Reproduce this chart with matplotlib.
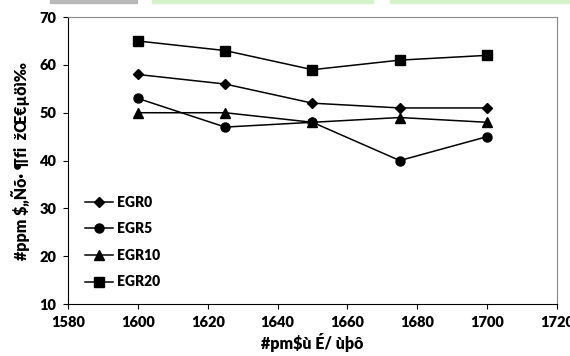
import matplotlib
matplotlib.use("Agg")
import matplotlib.pyplot as plt
from matplotlib.patches import Rectangle

plt.rcParams['font.family'] = ['Lato', 'DejaVu Sans']

# data
speed = [1600, 1625, 1650, 1675, 1700]
egr0 = [58, 56, 52, 51, 51]
egr5 = [53, 47, 48, 40, 45]
egr10 = [50, 50, 48, 49, 48]
egr20 = [65, 63, 59, 61, 62]

series = [("EGR0", egr0, "D", 5.5),
          ("EGR5", egr5, "o", 6.5),
          ("EGR10", egr10, "^", 6.5),
          ("EGR20", egr20, "s", 6.5)]

x_ticks = [1580, 1600, 1620, 1640, 1660, 1680, 1700, 1720]
y_ticks = [10, 20, 30, 40, 50, 60, 70]

fig = plt.figure(figsize=(5.70, 3.56), dpi=100)
ax = fig.add_axes([0.1193, 0.146, 0.8578, 0.806])

for name, vals, mk, ms in series:
    ax.plot(speed, vals, color="black", lw=1.1, marker=mk, markersize=ms,
            markerfacecolor="black", markeredgecolor="black", label=name)

ax.set_xlim(1580, 1720)
ax.set_ylim(10, 70)
ax.set_xticks(x_ticks)
ax.set_yticks(y_ticks)
ax.tick_params(direction="out", length=3.5, width=0.8, labelsize=10.5, pad=5)
for lab in ax.get_xticklabels() + ax.get_yticklabels():
    lab.set_fontweight("heavy")

ax.spines["left"].set_color("black")
ax.spines["bottom"].set_color("black")
ax.spines["top"].set_color("#888888")
ax.spines["right"].set_color("#888888")

ax.set_xlabel("#pm$ù É/ ùþô", fontsize=11.5, fontweight="heavy", labelpad=3)
ax.set_ylabel("#ppm $„Ñõ· ¶fi  žŒ€µöì‰", fontsize=11.5, fontweight="heavy", labelpad=7)

leg = ax.legend(loc="upper left", bbox_to_anchor=(0.035, 0.378), frameon=False,
                prop={"weight": "heavy", "size": 10}, handlelength=2.0,
                handletextpad=0.3, labelspacing=0.98, borderpad=0, borderaxespad=0)

# thin decorative strip along the top edge
fig.patches.append(Rectangle((50 / 570, 1 - 2.5 / 356), 87 / 570, 2.5 / 356,
                             transform=fig.transFigure, color="#b8b8b8", zorder=0))
fig.patches.append(Rectangle((152 / 570, 1 - 2.5 / 356), 221 / 570, 2.5 / 356,
                             transform=fig.transFigure, color="#d6f2c8", zorder=0))
fig.patches.append(Rectangle((390 / 570, 1 - 2.5 / 356), 180 / 570, 2.5 / 356,
                             transform=fig.transFigure, color="#d6f2c8", zorder=0))

fig.savefig("out.png", dpi=100)
